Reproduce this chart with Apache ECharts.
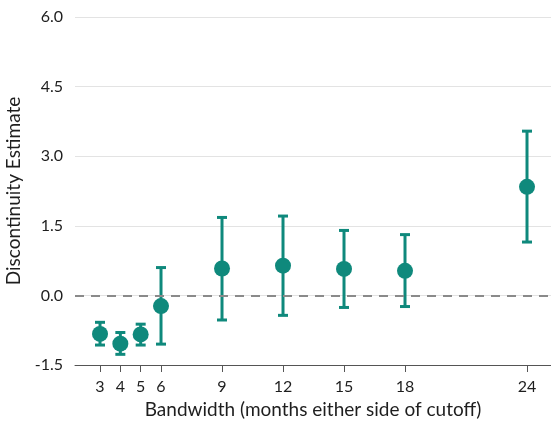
<!DOCTYPE html>
<html>
<head>
<meta charset="utf-8">
<script src="https://cdn.jsdelivr.net/npm/echarts@6/dist/echarts.min.js"></script>
<style>
  html, body { margin: 0; padding: 0; background: #fff; }
  #chart { width: 551px; height: 423px; }
</style>
</head>
<body>
<div id="chart"></div>
<script>
// Bandwidths (months either side of cutoff) and the estimated discontinuity with its interval
const bandwidths = [3, 4, 5, 6, 9, 12, 15, 18, 24];
const estimates  = [-0.83, -1.04, -0.84, -0.23, 0.58, 0.64, 0.57, 0.53, 2.34];
const lowerCI    = [-1.07, -1.27, -1.07, -1.05, -0.53, -0.43, -0.26, -0.24, 1.15];
const upperCI    = [-0.58, -0.80, -0.62, 0.60, 1.68, 1.71, 1.40, 1.31, 3.54];

const teal = '#0f897c';
const font = 'Lato, "Open Sans", sans-serif';
const textColor = '#1e1e1e';

const chart = echarts.init(document.getElementById('chart'), null, { renderer: 'canvas' });

const errorData = bandwidths.map((b, i) => [b, lowerCI[i], upperCI[i]]);
const pointData = bandwidths.map((b, i) => [b, estimates[i]]);

chart.setOption({
  animation: false,
  backgroundColor: '#fff',
  grid: { left: 75, right: 0, top: 17, bottom: 58, containLabel: false, outerBoundsMode: 'none' },
  xAxis: {
    type: 'value',
    min: 1.77,
    max: 25.18,
    name: 'Bandwidth (months either side of cutoff)',
    nameLocation: 'middle',
    nameGap: 33,
    nameTextStyle: { fontFamily: font, fontSize: 19, color: textColor, verticalAlign: 'middle' },
    axisLine: { show: true, onZero: false, lineStyle: { color: '#555', width: 1 } },
    axisTick: { show: true, customValues: bandwidths, length: 7, inside: false, lineStyle: { color: '#555' } },
    axisLabel: {
      customValues: bandwidths,
      margin: 14,
      fontFamily: font, fontSize: 16, color: textColor,
      formatter: v => String(v)
    },
    splitLine: { show: false }
  },
  yAxis: {
    type: 'value',
    min: -1.5,
    max: 6,
    interval: 1.5,
    name: 'Discontinuity Estimate',
    nameLocation: 'middle',
    nameGap: 42,
    nameTextStyle: { fontFamily: font, fontSize: 19, color: textColor },
    axisLine: { show: false },
    axisTick: { show: false },
    axisLabel: {
      margin: 12,
      fontFamily: font, fontSize: 16, color: textColor,
      formatter: v => v.toFixed(1)
    },
    splitLine: { show: true, lineStyle: { color: '#e3e3e3', width: 1 } }
  },
  series: [
    {
      // zero reference line
      type: 'line',
      data: [],
      markLine: {
        silent: true,
        symbol: 'none',
        label: { show: false },
        lineStyle: { color: '#8a8a8a', type: [9, 7], width: 2 },
        data: [{ yAxis: 0 }]
      }
    },
    {
      type: 'custom',
      data: errorData,
      z: 3,
      renderItem: function (params, api) {
        const x = api.value(0);
        const lo = api.coord([x, api.value(1)]);
        const hi = api.coord([x, api.value(2)]);
        const half = 5;
        const style = { stroke: teal, lineWidth: 3 };
        return {
          type: 'group',
          children: [
            { type: 'line', shape: { x1: lo[0], y1: lo[1], x2: hi[0], y2: hi[1] }, style: style },
            { type: 'line', shape: { x1: lo[0] - half, y1: lo[1], x2: lo[0] + half, y2: lo[1] }, style: style },
            { type: 'line', shape: { x1: hi[0] - half, y1: hi[1], x2: hi[0] + half, y2: hi[1] }, style: style }
          ]
        };
      }
    },
    {
      type: 'scatter',
      data: pointData,
      symbol: 'circle',
      symbolSize: 16,
      z: 4,
      itemStyle: { color: teal, opacity: 1 }
    }
  ]
});
</script>
</body>
</html>
